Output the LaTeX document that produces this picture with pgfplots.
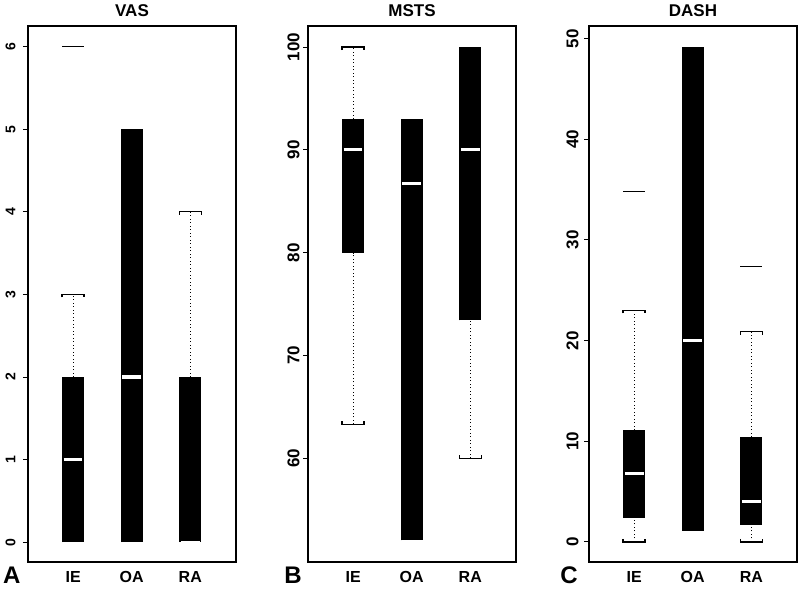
\documentclass[border=0pt]{standalone}
\usepackage{pgfplots}
\pgfplotsset{compat=1.18}
\usepackage{fontspec}
\setmainfont{Liberation Sans}
\pgfplotsset{
  rpanel/.style={
    anchor=south west, width=208pt, height=536pt, scale only axis,
    xmin=0.23, xmax=3.78,
    axis line style={line width=1.2pt},
    xtick={1,2,3}, xticklabels={IE,OA,RA},
    x tick style={draw=none},
    ytick pos=left, tick align=outside,
    y tick style={line width=1pt, black},
    major tick length=5pt,
    xticklabel style={font=\fontsize{16}{16}\selectfont\bfseries, yshift=-1pt},
    yticklabel style={rotate=90, anchor=south, font=\fontsize{17}{17}\selectfont\bfseries},
    /pgf/number format/assume math mode=true,
    title style={font=\fontsize{17}{17}\selectfont\bfseries, yshift=0pt},
    clip=false,
  },
  box/.style={black, line width=22pt, line cap=butt},
  med/.style={white, line width=3pt, line cap=butt},
  wh/.style={black, line width=0.9pt, dash pattern=on 0.9pt off 2.6pt},
  cap/.style={black, line width=1.3pt},
  outl/.style={black, line width=1.1pt},
}
\begin{document}
\begin{tikzpicture}[x=1pt,y=1pt]
\useasboundingbox (0,0) rectangle (799,588);
% ---------- VAS ----------
\begin{axis}[rpanel, at={(28pt,26pt)}, ymin=-0.24, ymax=6.25, ytick={0,1,2,3,4,5,6}, title={VAS},
  yticklabel style={font=\fontsize{14}{14}\selectfont\bfseries}, yticklabel shift=4pt]
% IE
\addplot[wh] coordinates {(1,2) (1,3)};
\addplot[cap] coordinates {(0.812,2.964) (0.812,3) (1.188,3) (1.188,2.964)};
\addplot[box] coordinates {(1,0) (1,2)};
\addplot[med] coordinates {(0.84,1) (1.16,1)};
\addplot[outl] coordinates {(0.812,6) (1.188,6)};
% OA
\addplot[box] coordinates {(2,0) (2,5)};
\addplot[med] coordinates {(1.84,2) (2.16,2)};
% RA
\addplot[wh] coordinates {(3,2) (3,4)};
\addplot[cap] coordinates {(2.812,3.964) (2.812,4) (3.188,4) (3.188,3.964)};
\addplot[box] coordinates {(3,0) (3,2)};
\addplot[med] coordinates {(2.84,0) (3.16,0)};
\end{axis}
% ---------- MSTS ----------
\begin{axis}[rpanel, at={(308pt,26pt)}, ymin=49.9, ymax=102.05, ytick={60,70,80,90,100}, title={MSTS}]
% IE
\addplot[wh] coordinates {(1,63.3) (1,80)};
\addplot[wh] coordinates {(1,93) (1,100)};
\addplot[cap] coordinates {(0.812,63.6) (0.812,63.3) (1.188,63.3) (1.188,63.6)};
\addplot[cap] coordinates {(0.812,99.7) (0.812,100) (1.188,100) (1.188,99.7)};
\addplot[box] coordinates {(1,80) (1,93)};
\addplot[med] coordinates {(0.84,90) (1.16,90)};
% OA
\addplot[box] coordinates {(2,52) (2,93)};
\addplot[med] coordinates {(1.84,86.7) (2.16,86.7)};
% RA
\addplot[wh] coordinates {(3,60) (3,73.4)};
\addplot[cap] coordinates {(2.812,60.3) (2.812,60) (3.188,60) (3.188,60.3)};
\addplot[box] coordinates {(3,73.4) (3,100)};
\addplot[med] coordinates {(2.84,90) (3.16,90)};
\end{axis}
% ---------- DASH ----------
\begin{axis}[rpanel, at={(589pt,26pt)}, ymin=-2.0, ymax=51.26, ytick={0,10,20,30,40,50}, title={DASH}, yticklabel shift=2pt]
% IE
\addplot[wh] coordinates {(1,0) (1,2.4)};
\addplot[wh] coordinates {(1,11.1) (1,23)};
\addplot[cap] coordinates {(0.812,0.3) (0.812,0) (1.188,0) (1.188,0.3)};
\addplot[cap] coordinates {(0.812,22.7) (0.812,23) (1.188,23) (1.188,22.7)};
\addplot[box] coordinates {(1,2.4) (1,11.1)};
\addplot[med] coordinates {(0.84,6.8) (1.16,6.8)};
\addplot[outl] coordinates {(0.812,34.8) (1.188,34.8)};
% OA
\addplot[box] coordinates {(2,1.1) (2,49.2)};
\addplot[med] coordinates {(1.84,20) (2.16,20)};
% RA
\addplot[wh] coordinates {(3,0) (3,1.7)};
\addplot[wh] coordinates {(3,10.4) (3,20.9)};
\addplot[cap] coordinates {(2.812,0.3) (2.812,0) (3.188,0) (3.188,0.3)};
\addplot[cap] coordinates {(2.812,20.6) (2.812,20.9) (3.188,20.9) (3.188,20.6)};
\addplot[box] coordinates {(3,1.7) (3,10.4)};
\addplot[med] coordinates {(2.84,4.05) (3.16,4.05)};
\addplot[outl] coordinates {(2.812,27.4) (3.188,27.4)};
\end{axis}
% panel letters
\node[font=\fontsize{24}{24}\selectfont\bfseries, anchor=base, inner sep=0pt] at (11.7pt,5pt) {A};
\node[font=\fontsize{24}{24}\selectfont\bfseries, anchor=base, inner sep=0pt] at (293pt,5pt) {B};
\node[font=\fontsize{24}{24}\selectfont\bfseries, anchor=base, inner sep=0pt] at (569pt,5pt) {C};
\end{tikzpicture}
\end{document}
